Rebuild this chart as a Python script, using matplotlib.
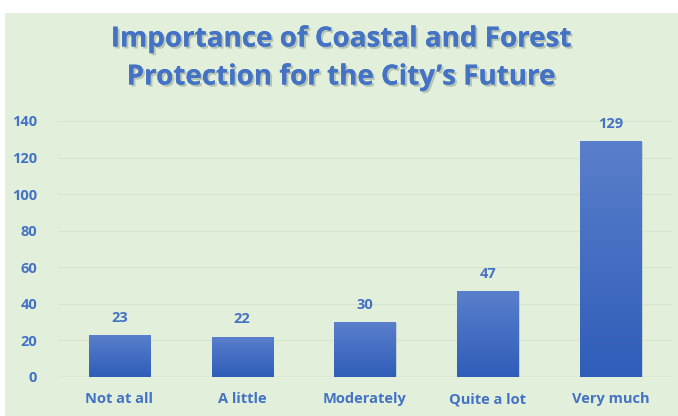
import matplotlib.pyplot as plt
import matplotlib as mpl
import matplotlib.patheffects as pe
import numpy as np
from matplotlib.patches import Rectangle
from matplotlib.colors import LinearSegmentedColormap

mpl.rcParams['font.family'] = ['Open Sans', 'DejaVu Sans']
mpl.rcParams['font.weight'] = 'bold'

categorias = ["Not at all", "A little", "Moderately", "Quite a lot", "Very much"]
valores = [23, 22, 30, 47, 129]
yticks = [0, 20, 40, 60, 80, 100, 120, 140]

azul = "#4472c4"
fondo = "#e2efda"

fig = plt.figure(figsize=(6.78, 4.16), dpi=100)
fig.patch.set_facecolor("white")
fig.patches.append(Rectangle((5 / 678, 0), 1, 1 - 13 / 416, transform=fig.transFigure,
                             facecolor=fondo, edgecolor="none", zorder=-10))

ax = fig.add_axes([58 / 678, (416 - 377) / 416, (672 - 58) / 678, (377 - 121) / 416])
ax.set_facecolor("none")

x = np.arange(len(categorias))
barras = ax.bar(x, valores, width=0.5, color="none", edgecolor="none", zorder=3)

# degradado vertical en cada barra
cmap = LinearSegmentedColormap.from_list("grad", ["#2f5db8", "#5a7fcc"])
grad = np.linspace(0, 1, 256).reshape(-1, 1)
for b in barras:
    x0, y0 = b.get_x(), b.get_y()
    w, h = b.get_width(), b.get_height()
    ax.add_patch(Rectangle((x0 + 0.01, y0), w, h - 0.5, facecolor="#8a9fb0",
                           edgecolor="none", alpha=0.35, zorder=2))
    im = ax.imshow(grad, extent=[x0, x0 + w, y0, y0 + h], origin="lower",
                   cmap=cmap, aspect="auto", zorder=3)
    im.set_clip_path(b)
    ax.text(x0 + w / 2, h + 9.5, str(int(h)), ha="center", va="center",
            color=azul, fontsize=10.5, fontweight="bold")

ax.set_xlim(-0.5, len(categorias) - 0.5)
ax.set_ylim(0, 140)
ax.set_yticks(yticks)
ax.set_xticks(x)
ax.set_xticklabels(categorias, fontsize=10.5)
ax.tick_params(axis="both", length=0, colors=azul, labelsize=10.5)
ax.tick_params(axis="y", pad=15)
ax.tick_params(axis="x", pad=11)
for lab in ax.get_yticklabels():
    lab.set_horizontalalignment("right")
ax.grid(axis="y", color="#d6e6cc", linewidth=0.8, zorder=0)
for s in ax.spines.values():
    s.set_visible(False)
ax.axhline(0, color="#d0dfc6", linewidth=1, zorder=1)

sombra = [pe.withSimplePatchShadow(offset=(1.5, -1.5), shadow_rgbFace="#8a9a90", alpha=0.5), pe.Normal()]
fig.text(0.5 + 2 / 678, 1 - 39 / 416, "Importance of Coastal and Forest", ha="center", va="center",
         color=azul, fontsize=20, fontweight="bold", path_effects=sombra)
fig.text(0.5 + 2 / 678, 1 - 77 / 416, "Protection for the City\u2019s Future", ha="center", va="center",
         color=azul, fontsize=20, fontweight="bold", path_effects=sombra)

fig.savefig("out.png", dpi=100, facecolor=fig.get_facecolor())
